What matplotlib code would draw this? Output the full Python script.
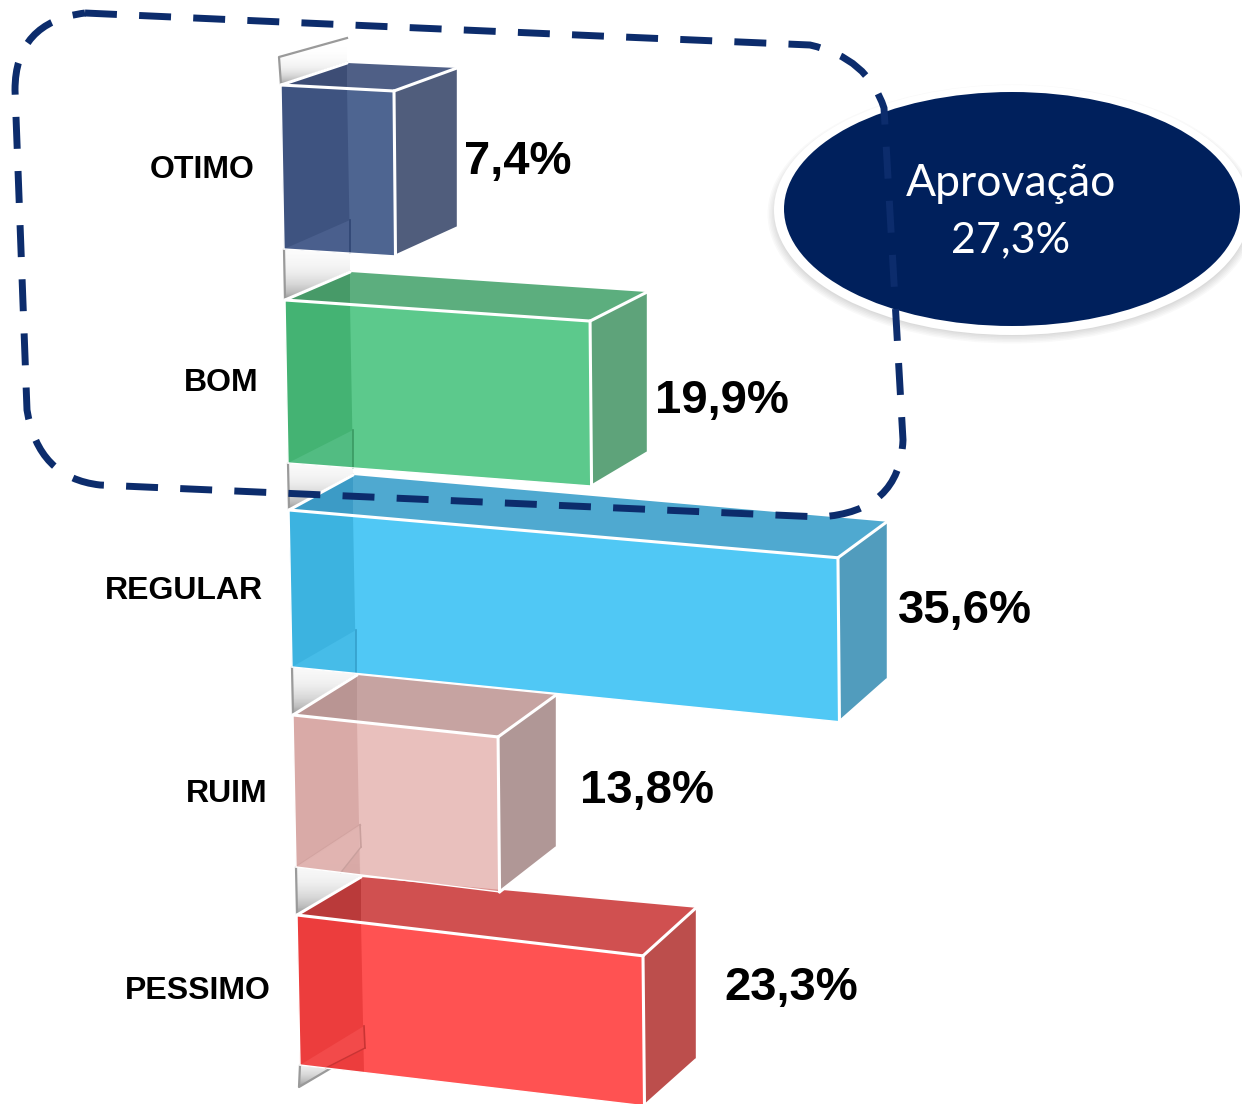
import numpy as np
import matplotlib
matplotlib.use('Agg')
import matplotlib.pyplot as plt
from matplotlib.patches import Ellipse, PathPatch, Polygon, Rectangle
from matplotlib.path import Path

# datos
categorias = ['OTIMO', 'BOM', 'REGULAR', 'RUIM', 'PESSIMO']
valores = [7.4, 19.9, 35.6, 13.8, 23.3]
aprovacao = 27.3

# colores de cada barra
col_frente = ['#4e6591', '#5cc98c', '#50c8f5', '#e2aba7', '#ff5252']
col_banda = ['#3e5380', '#44b373', '#3cb3e0', '#d4a3a0', '#ec3d3d']
col_techo = ['#4f5f86', '#5cae7e', '#4fa9d0', '#c6a3a1', '#d05050']
col_techo2 = ['#3d4d75', '#479a68', '#3c9bc6', '#b99593', '#ba3a3a']
col_lado = ['#505d7c', '#5ea37a', '#519cbd', '#b09796', '#bc4e4c']
col_piso = ['#4a5f8d', '#52bc82', '#46bce8', '#e4b8b5', '#f24a4a']
col_filo = ['#2f4573', '#3a9a62', '#34a0cc', '#c9a09d', '#c93434']
alfa_frente = [1, 1, 1, 0.75, 1]

# perspectiva de cada fila (en pixeles)
x_fila = [281, 285, 289, 293, 297]
y_fila = [85, 300, 510, 715, 915]
escala = [15.27, 15.33, 15.42, 14.86, 14.85]
pendiente = [0.053, 0.069, 0.087, 0.107, 0.118]
alto_izq = [164, 163, 157, 152, 150]
alto_der = [165, 165, 164, 155, 150]
fondo_izq = [(66, -22), (65, -28), (64, -35), (64, -40), (64, -38)]
fondo_der = [(63, -23), (57, -29), (49, -36), (58, -42), (53, -48)]
alto_fondo = [160, 161, 158, 153, 152]
piso_frac = [1, 1, 1, 0.7, 0.4]
sep_valor = [7, 8, 11, 24, 28]
y_valor = [162, 401, 611, 791, 988]
y_cat = [170, 383, 591, 794, 991]

BLANCO = '#ffffff'
AZUL = '#00205c'

fig = plt.figure(figsize=(12.5, 11.04), dpi=100)
ax = fig.add_axes([0, 0, 1, 1])


def degradado(puntos, z=1):
    pol = Polygon(puntos, closed=True, facecolor='none', edgecolor='none', zorder=z)
    ax.add_patch(pol)
    grad = (np.linspace(0, 1, 64) ** 3 * 0.5).reshape(-1, 1)
    xs = [p[0] for p in puntos]
    ys = [p[1] for p in puntos]
    im = ax.imshow(grad, extent=(min(xs), max(xs), max(ys), min(ys)), cmap='Greys',
                   vmin=0, vmax=1, aspect='auto', zorder=z)
    im.set_clip_path(pol)
    ax.plot([xs[3], xs[0], xs[1], xs[2]], [ys[3], ys[0], ys[1], ys[2]][::1],
            color='#9a9a9a', lw=1.6, zorder=z + 0.1)


def caras(i):
    largo = valores[i] * escala[i]
    x0, y0 = x_fila[i], y_fila[i]
    ftl = (x0, y0)
    ftr = (x0 + largo, y0 + pendiente[i] * largo)
    fbl = (x0 + 3, y0 + alto_izq[i])
    fbr = (ftr[0] + 1.5, ftr[1] + alto_der[i])
    btl = (x0 + fondo_izq[i][0], y0 + fondo_izq[i][1])
    btr = (ftr[0] + fondo_der[i][0], ftr[1] + fondo_der[i][1])
    bbr = (btr[0], btr[1] + alto_fondo[i])
    bbl = (btl[0] + 3, btl[1] + alto_fondo[i] - 3)
    return ftl, ftr, fbl, fbr, btl, btr, bbr, bbl


# paredes grises detras de las barras
geo = [caras(i) for i in range(len(valores))]
ftl, ftr, fbl, fbr, btl, btr, bbr, bbl = geo[0]
degradado([(ftl[0], ftl[1]), (ftl[0] - 2, ftl[1] - 28), (btl[0], btl[1] - 25), btl])
for i in range(len(valores) - 1):
    degradado([geo[i + 1][0], geo[i][2], geo[i][7], geo[i + 1][4]])
fbl_u, bbl_u = geo[-1][2], geo[-1][7]
degradado([(fbl_u[0] - 1, fbl_u[1] + 22), fbl_u, bbl_u, (bbl_u[0] + 1, bbl_u[1] + 22)])


def dibuja_barra(i):
    ftl, ftr, fbl, fbr, btl, btr, bbr, bbl = geo[i]
    z = 3 + (len(valores) - i) * 0.1
    a = alfa_frente[i]
    ax.add_patch(Polygon([ftr, btr, bbr, fbr], facecolor=col_lado[i], edgecolor='none', zorder=z))
    ax.add_patch(Polygon([ftl, btl, btr, ftr], facecolor=col_techo[i], edgecolor='none', zorder=z))
    # parte oscura del techo, la pared vista a traves
    t = (btl[0] - ftl[0]) / (ftr[0] - ftl[0])
    arriba = (btl[0], ftl[1] + t * (ftr[1] - ftl[1]))
    ax.add_patch(Polygon([ftl, btl, arriba], facecolor=col_techo2[i], edgecolor='none', zorder=z))
    ax.add_patch(Polygon([ftl, ftr, fbr, fbl], facecolor=col_frente[i], alpha=a, edgecolor='none', zorder=z + 0.01))
    t2 = (btl[0] + 3 - fbl[0]) / (fbr[0] - fbl[0])
    abajo = (btl[0] + 3, fbl[1] + t2 * (fbr[1] - fbl[1]))
    ax.add_patch(Polygon([ftl, arriba, abajo, fbl], facecolor=col_banda[i], alpha=a, edgecolor='none', zorder=z + 0.02))
    # piso visto a traves del frente
    t3 = piso_frac[i] * (bbl[0] - fbl[0]) / (fbr[0] - fbl[0])
    corte = (fbl[0] + t3 * (fbr[0] - fbl[0]), fbl[1] + t3 * (fbr[1] - fbl[1]))
    ax.add_patch(Polygon([fbl, bbl, (bbl[0] + 1, bbl[1] + 22), corte] if piso_frac[i] < 1 else [fbl, bbl, corte],
                         facecolor=col_piso[i], edgecolor='none', alpha=a, zorder=z + 0.03))
    fin = (bbl[0] + 1, bbl[1] + 22) if piso_frac[i] < 1 else corte
    ax.plot([bbl[0], fin[0]], [bbl[1], fin[1]], color=col_filo[i], lw=1.2, zorder=z + 0.035)
    if piso_frac[i] < 1:
        ax.plot([fin[0], corte[0]], [fin[1], corte[1]], color=col_filo[i], lw=1.0, zorder=z + 0.035)
    # aristas blancas
    for p, q in [(ftl, ftr), (ftr, fbr), (ftr, btr), (ftl, btl), (fbr, bbr)]:
        ax.plot([p[0], q[0]], [p[1], q[1]], color=BLANCO, lw=2.2, zorder=z + 0.04,
                solid_capstyle='round')
    for p, q in [(btr, bbr), (ftl, fbl), (fbl, fbr)]:
        ax.plot([p[0], q[0]], [p[1], q[1]], color=BLANCO, lw=1.0, zorder=z + 0.04)


# se dibuja de abajo hacia arriba, el rosa transparenta el rojo
for i in range(len(valores) - 1, -1, -1):
    dibuja_barra(i)

for i, cat in enumerate(categorias):
    ax.text(x_fila[i] - 26, y_cat[i], cat, ha='right', va='center', fontsize=23,
            fontweight='bold', family='Liberation Sans', color='black', zorder=8)
    etiqueta = f'{valores[i]:.1f}%'.replace('.', ',')
    ax.text(geo[i][5][0] + sep_valor[i], y_valor[i], etiqueta, ha='left', va='center',
            fontsize=34, fontweight='bold', family='Liberation Sans', color='black', zorder=8)

# globo de aprobacion
recorte = Rectangle((0, 0), 1242, 1104, transform=ax.transData)
for k in range(6):
    sombra = Ellipse((1012, 214), 474 + k * 3, 244 + k * 3, facecolor='#000000', alpha=0.025,
                     edgecolor='none', zorder=5)
    ax.add_patch(sombra)
    sombra.set_clip_path(recorte)
borde = Ellipse((1012, 210), 476, 250, facecolor=BLANCO, edgecolor='none', zorder=5.5)
ax.add_patch(borde)
borde.set_clip_path(recorte)
ovalo = Ellipse((1012, 209), 456, 234, facecolor=AZUL, edgecolor='none', zorder=6)
ax.add_patch(ovalo)
ovalo.set_clip_path(recorte)
ax.text(1011, 183, 'Aprovação', ha='center', va='center', fontsize=32, color=BLANCO,
        family='Lato', zorder=8)
ax.text(1011, 240, f'{aprovacao:.1f}%'.replace('.', ','), ha='center', va='center',
        fontsize=31, color=BLANCO, family='Lato', zorder=8)

# contorno punteado
vert = [(85, 13), (260, 21), (600, 36), (810, 45), (868, 58), (884, 108), (895, 300), (903, 440),
        (900, 512), (820, 517), (460, 501), (100, 485), (38, 478), (27, 410), (15, 90), (15, 22), (85, 13)]
cod = [Path.MOVETO, Path.LINETO, Path.LINETO, Path.LINETO, Path.CURVE3, Path.CURVE3, Path.LINETO, Path.LINETO,
       Path.CURVE3, Path.CURVE3, Path.LINETO, Path.LINETO, Path.CURVE3, Path.CURVE3, Path.LINETO, Path.CURVE3, Path.CURVE3]
ax.add_patch(PathPatch(Path(vert, cod), facecolor='none', edgecolor='#0c2c6c', lw=5,
                       linestyle=(0, (4.6, 3.2)), zorder=7))

ax.set_xlim(0, 1250)
ax.set_ylim(1104, 0)
ax.axis('off')
fig.savefig('out.png', dpi=100, facecolor='white')
